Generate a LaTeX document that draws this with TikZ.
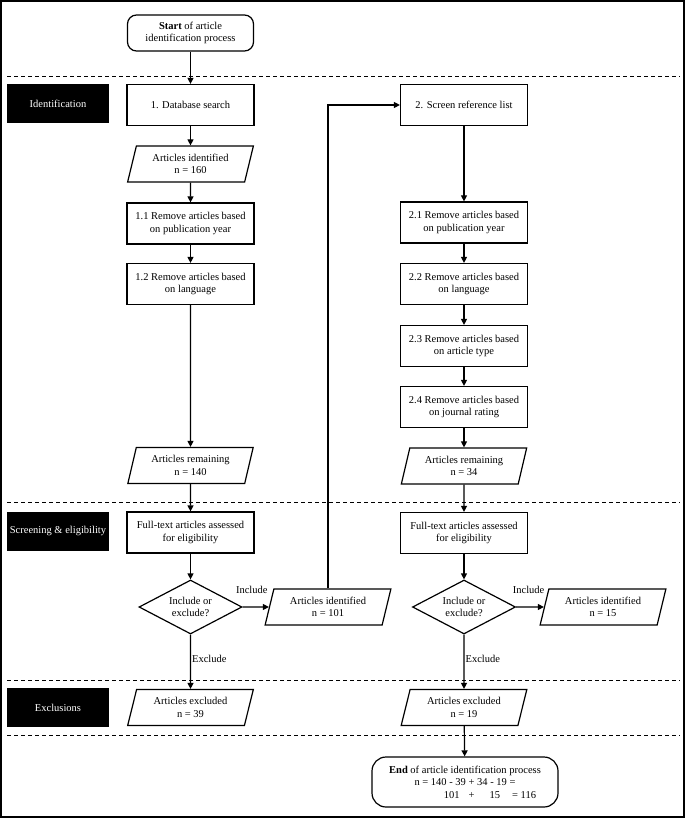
\documentclass[tikz,border=0pt]{standalone}
\usepackage{fontspec}
\setmainfont{Liberation Serif}
\usetikzlibrary{shapes.geometric,arrows.meta,positioning}

\begin{document}
\begin{tikzpicture}[x=1pt, y=-1pt, font=\fontsize{10.5}{12.5}\selectfont,
  box/.style={draw, line width=1.2pt, minimum width=127pt, minimum height=41pt, align=center, inner sep=2pt},
  io/.style={draw, line width=1.2pt, trapezium, trapezium left angle=74, trapezium right angle=106, trapezium stretches=true, minimum width=126pt, minimum height=36pt, align=center, inner sep=1pt},
  term/.style={draw, line width=1.2pt, rounded corners=9pt, align=center},
  choice/.style={draw, line width=1.2pt, diamond, aspect=1.9, minimum width=103pt, minimum height=54pt, align=center, inner sep=0pt},
  phase/.style={fill=black, text=white, minimum width=102pt, minimum height=39pt},
  sep/.style={line width=0.6pt, dash pattern=on 4pt off 3pt},
  flow/.style={line width=1.2pt, -{Triangle[length=6pt,width=6pt]}},
  lbl/.style={inner sep=1pt}]
  \useasboundingbox (0,0) rectangle (685,818);
  \draw[line width=1.6pt] (1,1) rectangle (684,817);

  % phases
  \foreach \y in {76, 502, 680, 735}
    \draw[sep] (7,\y) -- (680,\y);
  \node[phase] (phid) at (58,103.5) {Identification};
  \node[phase] (phsc) at (58,531) {Screening \& eligibility};
  \node[phase] (phex) at (58,707.5) {Exclusions};

  % left column
  \node[term, minimum width=126pt, minimum height=36pt] (start) at (190.5,33) {\textbf{Start} of article\\identification process};
  \node[box] (db) at (190.5,105) {1. Database search};
  \node[io] (n160) at (190.5,164) {Articles identified\\n = 160};
  \node[box] (r11) at (190.5,223.5) {1.1 Remove articles based\\on publication year};
  \node[box] (r12) at (190.5,284) {1.2 Remove articles based\\on language};
  \node[io] (rem1) at (190.5,465.5) {Articles remaining\\n = 140};
  \node[box] (ft1) at (190.5,532.5) {Full-text articles assessed\\for eligibility};
  \node[choice] (dec1) at (190.5,607) {Include or\\exclude?};
  \node[io] (id101) at (328,607) {Articles identified\\n = 101};
  \node[io] (exc1) at (190.5,707.5) {Articles excluded\\n = 39};

  % right column
  \node[box] (scr) at (464,105) {2. Screen reference list};
  \node[box] (r21) at (464,222.5) {2.1 Remove articles based\\on publication year};
  \node[box] (r22) at (464,284) {2.2 Remove articles based\\on language};
  \node[box] (r23) at (464,346) {2.3 Remove articles based\\on article type};
  \node[box] (r24) at (464,407) {2.4 Remove articles based\\on journal rating};
  \node[io] (rem2) at (464,466) {Articles remaining\\n = 34};
  \node[box] (ft2) at (464,533) {Full-text articles assessed\\for eligibility};
  \node[choice] (dec2) at (464,607) {Include or\\exclude?};
  \node[io] (id15) at (603,607) {Articles identified\\n = 15};
  \node[io] (exc2) at (464,707.5) {Articles excluded\\n = 19};
  \node[term, minimum width=186pt, minimum height=50pt, rounded corners=14pt] (end) at (465,782)
    {\textbf{End} of article identification process\\n = 140 - 39 + 34 - 19 =\\\hspace*{50pt}101\hspace{9pt}+\hspace{15pt}15\hspace{12pt}= 116};

  \draw[flow] (start) -- (db);
  \draw[flow] (db) -- (n160);
  \draw[flow] (n160) -- (r11);
  \draw[flow] (r11) -- (r12);
  \draw[flow] (r12) -- (rem1);
  \draw[flow] (rem1) -- (ft1);
  \draw[flow] (ft1) -- (dec1);
  \draw[flow] (dec1) -- node[lbl, above=12pt, pos=0.35] {Include} (id101);
  \draw[flow] (dec1) -- node[lbl, right, pos=0.45] {Exclude} (exc1);
  \draw[flow] (id101.north) |- (scr.west);

  \draw[flow] (scr) -- (r21);
  \draw[flow] (r21) -- (r22);
  \draw[flow] (r22) -- (r23);
  \draw[flow] (r23) -- (r24);
  \draw[flow] (r24) -- (rem2);
  \draw[flow] (rem2) -- (ft2);
  \draw[flow] (ft2) -- (dec2);
  \draw[flow] (dec2) -- node[lbl, above=12pt, pos=0.45] {Include} (id15);
  \draw[flow] (dec2) -- node[lbl, right, pos=0.45] {Exclude} (exc2);
  \draw[flow] (exc2) -- (end);
\end{tikzpicture}
\end{document}
